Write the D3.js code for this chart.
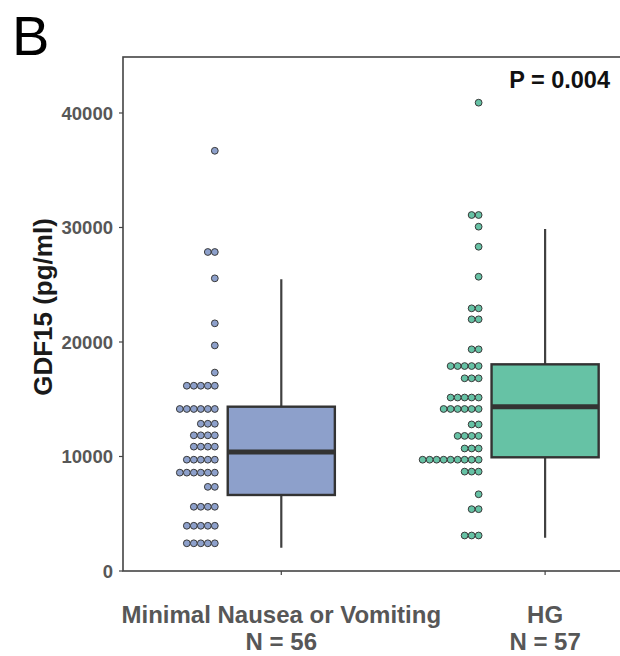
<!DOCTYPE html>
<html>
<head>
<meta charset="utf-8">
<script src="https://cdn.jsdelivr.net/npm/d3@7"></script>
<style>
  html, body { margin: 0; padding: 0; background: #fff; }
  svg { display: block; font-family: "Liberation Sans", Arial, sans-serif; }
</style>
</head>
<body>
<svg id="chart" width="620" height="656"></svg>
<script>
// ---------------- DATA ----------------
const groups = ["Minimal Nausea or Vomiting", "HG"];
const groupN = ["N = 56", "N = 57"];
const groupColors = ["#8da0cb", "#66c2a5"];

// Box statistics (pg/ml): whisker low, Q1, median, Q3, whisker high
const boxLow    = [2030, 2910];
const boxQ1     = [6640, 9930];
const boxMedian = [10400, 14350];
const boxQ3     = [14350, 18050];
const boxHigh   = [25470, 29870];

// Dot plot bins (pg/ml) and number of dots in each bin
const dotValues1 = [36700, 27860, 25560, 21630, 19700, 17330, 16180, 14150, 12860, 11850, 10860, 9720, 8590, 7350, 5610, 3950, 2420];
const dotCounts1 = [1, 2, 1, 1, 1, 1, 5, 6, 3, 4, 4, 5, 6, 2, 4, 5, 5];
const dotValues2 = [40900, 31090, 30070, 28320, 25700, 22940, 21980, 19360, 17900, 16830, 15150, 14150, 12800, 11800, 10700, 9720, 8680, 6700, 5400, 3100];
const dotCounts2 = [1, 2, 1, 1, 1, 2, 2, 2, 5, 3, 5, 6, 2, 4, 3, 9, 3, 1, 2, 3];

const yTicks = [0, 10000, 20000, 30000, 40000];
const yTitle = "GDF15 (pg/ml)";
const pLabel = "P = 0.004";
const panelLabel = "B";

// ---------------- LAYOUT ----------------
const svg = d3.select("#chart");
const plotLeft = 123, plotBottom = 571, plotTop = 57;

const x = d3.scaleLinear().domain([0.4, 2.6]).range([plotLeft, 703.4]);
const y = d3.scaleLinear().domain([0, 44890]).range([plotBottom, plotTop]);

const boxHalf = 0.203; // box half-width in group units
const dotR = 3.4, dotStep = 7.0;
const dotOffset = 0.252; // rightmost dot centre offset from group centre, in units

// panel frame (right side falls outside the picture)
svg.append("rect")
  .attr("x", plotLeft).attr("y", plotTop)
  .attr("width", x(2.6) - plotLeft).attr("height", plotBottom - plotTop)
  .attr("fill", "none").attr("stroke", "#444").attr("stroke-width", 1.6);

// y axis ticks
const yAxisG = svg.append("g");
yTicks.forEach(t => {
  yAxisG.append("line")
    .attr("x1", plotLeft - 4).attr("x2", plotLeft)
    .attr("y1", y(t)).attr("y2", y(t))
    .attr("stroke", "#444").attr("stroke-width", 1.2);
  yAxisG.append("text")
    .attr("x", plotLeft - 10).attr("y", y(t))
    .attr("dy", "0.36em")
    .attr("text-anchor", "end")
    .attr("font-size", 18.5).attr("font-weight", "bold")
    .attr("fill", "#575757")
    .text(d3.format("d")(t));
});

// x ticks + labels
groups.forEach((g, i) => {
  const cx = x(i + 1);
  svg.append("line")
    .attr("x1", cx).attr("x2", cx)
    .attr("y1", plotBottom).attr("y2", plotBottom + 4)
    .attr("stroke", "#444").attr("stroke-width", 1.2);
  svg.append("text")
    .attr("x", cx).attr("y", 623)
    .attr("text-anchor", "middle")
    .attr("font-size", 24).attr("font-weight", "bold")
    .attr("fill", "#575757")
    .text(g);
  svg.append("text")
    .attr("x", cx).attr("y", 650)
    .attr("text-anchor", "middle")
    .attr("font-size", 24).attr("font-weight", "bold")
    .attr("fill", "#575757")
    .text(groupN[i]);
});

// y title
svg.append("text")
  .attr("transform", `translate(52, 307) rotate(-90)`)
  .attr("text-anchor", "middle")
  .attr("font-size", 26).attr("font-weight", "bold")
  .attr("fill", "#1a1a1a")
  .text(yTitle);

// boxes
groups.forEach((g, i) => {
  const cx = x(i + 1);
  const g0 = svg.append("g");
  g0.append("line")
    .attr("x1", cx).attr("x2", cx)
    .attr("y1", y(boxLow[i])).attr("y2", y(boxHigh[i]))
    .attr("stroke", "#404040").attr("stroke-width", 2.2);
  g0.append("rect")
    .attr("x", x(i + 1 - boxHalf)).attr("width", x(i + 1 + boxHalf) - x(i + 1 - boxHalf))
    .attr("y", y(boxQ3[i])).attr("height", y(boxQ1[i]) - y(boxQ3[i]))
    .attr("fill", groupColors[i]).attr("stroke", "#333").attr("stroke-width", 2.4);
  g0.append("line")
    .attr("x1", x(i + 1 - boxHalf)).attr("x2", x(i + 1 + boxHalf))
    .attr("y1", y(boxMedian[i])).attr("y2", y(boxMedian[i]))
    .attr("stroke", "#333").attr("stroke-width", 5);
});

// dots
[[dotValues1, dotCounts1], [dotValues2, dotCounts2]].forEach(([vals, counts], i) => {
  const xr = x(i + 1 - dotOffset);
  const dots = [];
  vals.forEach((v, k) => {
    for (let j = 0; j < counts[k]; j++) dots.push({ v, j });
  });
  svg.append("g").selectAll("circle")
    .data(dots).join("circle")
    .attr("cx", d => xr - d.j * dotStep)
    .attr("cy", d => y(d.v))
    .attr("r", dotR)
    .attr("fill", groupColors[i])
    .attr("stroke", "#3a3a3a").attr("stroke-width", 1);
});

// p value
svg.append("text")
  .attr("x", 610).attr("y", 88)
  .attr("text-anchor", "end")
  .attr("font-size", 23.5).attr("font-weight", "bold")
  .attr("fill", "#111")
  .text(pLabel);

// panel label
svg.append("text")
  .attr("x", 12).attr("y", 55)
  .attr("font-size", 56)
  .attr("fill", "#000")
  .text(panelLabel);
</script>
</body>
</html>
